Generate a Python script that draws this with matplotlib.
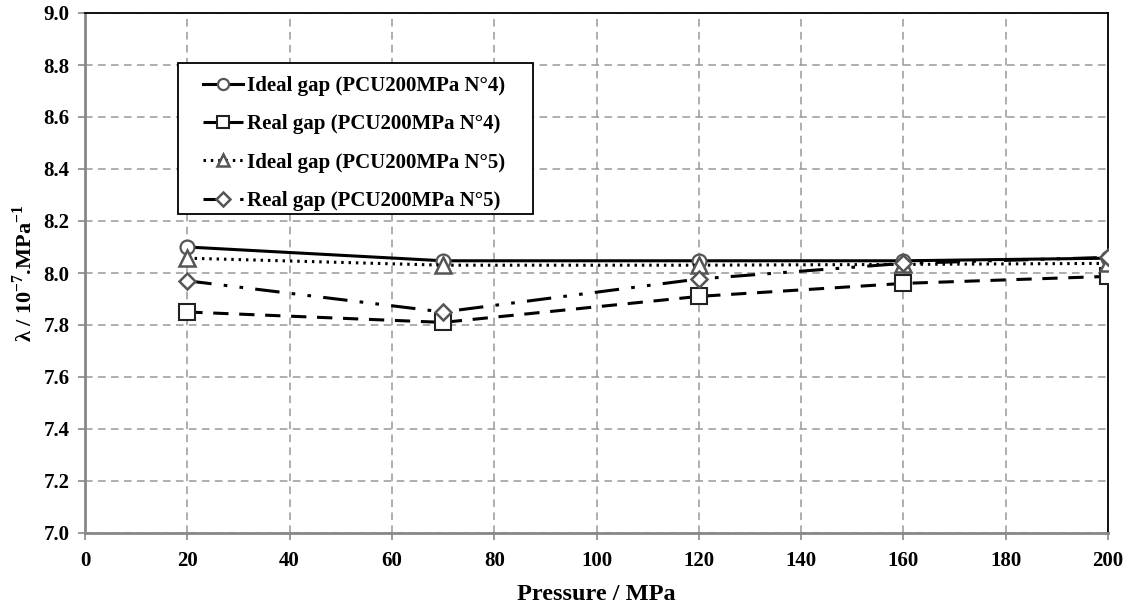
import matplotlib.pyplot as plt
from matplotlib.patches import Rectangle
import numpy as np

plt.rcParams['font.family'] = ['Liberation Serif', 'DejaVu Serif']
plt.rcParams['font.weight'] = 'bold'
plt.rcParams['mathtext.fontset'] = 'custom'
plt.rcParams['mathtext.rm'] = 'Liberation Serif:bold'
plt.rcParams['mathtext.bf'] = 'Liberation Serif:bold'

pressure = [20, 70, 120, 160, 200]
ideal_n4 = [8.10, 8.047, 8.047, 8.047, 8.057]
real_n4 = [7.85, 7.81, 7.91, 7.96, 7.987]
ideal_n5 = [8.057, 8.03, 8.03, 8.033, 8.037]
real_n5 = [7.97, 7.85, 7.977, 8.037, 8.06]

labels = ['Ideal gap (PCU200MPa N°4)', 'Real gap (PCU200MPa N°4)',
          'Ideal gap (PCU200MPa N°5)', 'Real gap (PCU200MPa N°5)']

W, H = 1131, 607
fig = plt.figure(figsize=(W / 100, H / 100), dpi=100)
ax = fig.add_axes([85 / W, 1 - 533 / H, 1023 / W, 520 / H])

ax.plot(pressure, ideal_n4, color='black', lw=2.2, linestyle='-', marker='o', label=labels[0], zorder=3,
        markersize=10, markerfacecolor='white', markeredgecolor='#555555', markeredgewidth=1.6)
ax.plot(pressure, real_n4, color='black', lw=2.2, linestyle=(0, (5, 3.5)), marker='s', label=labels[1], zorder=3,
        markersize=11, markerfacecolor='white', markeredgecolor='#222222', markeredgewidth=1.5)
ax.plot(pressure, ideal_n5, color='black', lw=2.2, linestyle=(0, (0.8, 1.6)), marker='^', label=labels[2], zorder=4,
        markersize=11, markerfacecolor='white', markeredgecolor='#555555', markeredgewidth=1.8)
ax.plot(pressure, real_n5, color='black', lw=2.2, linestyle=(0, (8, 4, 1.2, 4, 1.2, 4)), marker='D', label=labels[3], zorder=4,
        markersize=8.5, markerfacecolor='white', markeredgecolor='#555555', markeredgewidth=1.8)

ax.set_xlim(0, 200)
ax.set_ylim(7.0, 9.0)
ax.set_xticks(np.arange(0, 201, 20))
yt = np.arange(7.0, 9.01, 0.2)
ax.set_yticks(yt)
ax.set_yticklabels([f'{v:.1f}' for v in yt])
ax.grid(True, color='#999999', linestyle=(0, (5, 3.5)), lw=1.1)
ax.tick_params(axis='x', labelsize=15, length=5, width=1.2, color='#888888', pad=8)
ax.tick_params(axis='y', labelsize=15, length=5, width=1.2, color='#888888', pad=6)
for lbl in ax.get_xticklabels() + ax.get_yticklabels():
    lbl.set_fontweight('bold')

for s in ['left', 'bottom']:
    ax.spines[s].set_color('#888888')
    ax.spines[s].set_linewidth(2)
for s in ['top', 'right']:
    ax.spines[s].set_color('black')
    ax.spines[s].set_linewidth(1.3)

ax.set_xlabel('Pressure / MPa', fontsize=17.5, fontweight='bold', labelpad=9)
ax.set_ylabel(r'λ / 10$^{-7}$.MPa$^{-1}$', fontsize=16, fontweight='bold', labelpad=5)

# legend without its own frame, box drawn separately to get Excel-like padding
leg = ax.legend(loc='upper left', bbox_to_anchor=((203 - 85) / 1023, (533 - 76) / 520), frameon=False,
                prop={'size': 15, 'weight': 'bold'}, markerscale=0.8,
                handlelength=1.9, handletextpad=0.2, labelspacing=0.88, borderpad=0,
                borderaxespad=0)
leg.set_zorder(6)
box = Rectangle((178 / W, 1 - 214 / H), 355 / W, 151 / H, transform=fig.transFigure,
                facecolor='white', edgecolor='black', lw=1.3, zorder=5)
ax.add_patch(box)
box.set_clip_on(False)

fig.savefig('out.png', dpi=100)
